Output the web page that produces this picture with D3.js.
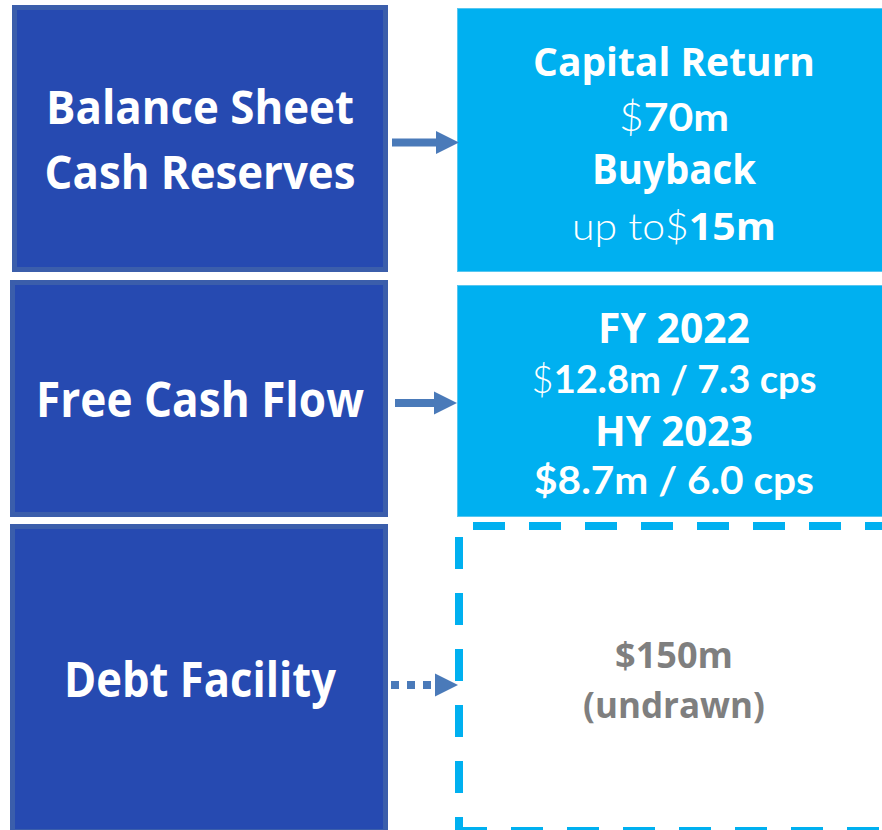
<!DOCTYPE html>
<html>
<head>
<meta charset="utf-8">
<script src="https://cdn.jsdelivr.net/npm/d3@7/dist/d3.min.js"></script>
<style>
  html, body { margin: 0; padding: 0; background: #fff; }
  svg { display: block; }
</style>
</head>
<body>
<svg id="chart" width="882" height="830"></svg>
<script>
'use strict';

// content of the three rows: source box -> target box
var sourceLabels = [
    ['Balance Sheet', 'Cash Reserves'],
    ['Free Cash Flow'],
    ['Debt Facility']
];

// each target line is a list of [text, style] runs
var targetLabels = [
    [
        [['Capital Return', 'bold']],
        [['$', 'thin'], ['70m', 'geo']],
        [['Buyback', 'bold']],
        [['up to', 'thin'], ['$', 'thin'], ['15m', 'bold']]
    ],
    [
        [['FY 2022', 'bold']],
        [['$', 'thin'], ['12.8m / 7.3 cps', 'geo']],
        [['HY 2023', 'bold']],
        [['$8.7m / 6.0 cps', 'geo']]
    ],
    [
        [['$150m', 'bold']],
        [['(undrawn)', 'bold']]
    ]
];

var linkTypes = ['solid', 'solid', 'dotted'];
var targetTypes = ['filled', 'filled', 'dashed'];

// layout (pixels)
var rowLayout = [
    { sx0: 12, sy0: 5,   sy1: 272, ty0: 8,   ty1: 272, ay: 142.5, ax0: 392, ax1: 459 },
    { sx0: 10, sy0: 280, sy1: 517, ty0: 285, ty1: 517, ay: 403,   ax0: 395, ax1: 457 },
    { sx0: 10, sy0: 524, sy1: 834, ty0: 526, ty1: 831, ay: 685,   ax0: 391, ax1: 458 }
];
var sourceText = [
    { size: [46, 46], base: [124, 188.5], width: [308, 311] },
    { size: [49],     base: [416.5],      width: [328] },
    { size: [49],     base: [696.5],      width: [272] }
];
var targetText = [
    { size: [40, 39, 42, 38], base: [76, 131, 184, 240], width: [282, 110, 164, 204] },
    { size: [42, 38, 42, 38], base: [343, 393, 446, 494], width: [152, 285, 158, 280] },
    { size: [36, 36],         base: [668, 718],           width: [118, 182] }
];

var sourceRight = 388, targetLeft = 457, targetRight = 892;
var sourceCx = 200, targetCx = 674;

var colors = {
    source: '#264ab1',
    sourceEdge: '#3b5eab',
    target: '#00b0f0',
    targetEdge: '#56c6f0',
    arrow: '#4a7ab9',
    grey: '#7f7f7f',
    white: '#ffffff'
};

var fonts = {
    bold: { family: '"Open Sans", Lato, sans-serif', weight: 700 },
    geo: { family: 'Lato, "Open Sans", sans-serif', weight: 700 },
    thin: { family: 'Lato, "Open Sans", sans-serif', weight: 300 }
};

var svg = d3.select('#chart');

function fitLine(textSel, cx, base, width) {
    var w = textSel.node().getComputedTextLength();
    var k = w > 0 ? width / w : 1;
    textSel.attr('transform', 'translate(' + cx + ',' + base + ') scale(' + k + ',1)');
}

function draw() {
    var rows = svg.selectAll('g.row')
        .data(sourceLabels.map(function (d, i) {
            return { source: d, target: targetLabels[i], link: linkTypes[i], type: targetTypes[i], lay: rowLayout[i], st: sourceText[i], tt: targetText[i] };
        }))
        .enter().append('g')
        .attr('class', 'row');

    // source boxes
    var sw = 5;
    rows.append('rect')
        .attr('x', function (d) { return d.lay.sx0 + sw / 2; })
        .attr('y', function (d) { return d.lay.sy0 + sw / 2; })
        .attr('width', function (d) { return sourceRight - d.lay.sx0 - sw; })
        .attr('height', function (d) { return d.lay.sy1 - d.lay.sy0 - sw; })
        .attr('fill', colors.source)
        .attr('stroke', colors.sourceEdge)
        .attr('stroke-width', sw);

    rows.each(function (d) {
        var g = d3.select(this);
        d.source.forEach(function (line, j) {
            var t = g.append('text')
                .attr('text-anchor', 'middle')
                .attr('font-family', fonts.bold.family)
                .attr('font-weight', fonts.bold.weight)
                .attr('font-size', d.st.size[j])
                .attr('fill', colors.white)
                .text(line);
            fitLine(t, sourceCx, d.st.base[j], d.st.width[j]);
        });
    });

    // target boxes
    rows.filter(function (d) { return d.type === 'filled'; })
        .append('rect')
        .attr('x', targetLeft + 0.5)
        .attr('y', function (d) { return d.lay.ty0 + 0.5; })
        .attr('width', targetRight - targetLeft)
        .attr('height', function (d) { return d.lay.ty1 - d.lay.ty0 - 1; })
        .attr('fill', colors.target)
        .attr('stroke', colors.targetEdge)
        .attr('stroke-width', 1);

    var dashed = rows.filter(function (d) { return d.type === 'dashed'; });
    var dx = 459;
    dashed.append('line')
        .attr('x1', dx).attr('x2', targetRight)
        .attr('y1', function (d) { return d.lay.ty0; })
        .attr('y2', function (d) { return d.lay.ty0; })
        .attr('stroke-dashoffset', 42);
    dashed.append('line')
        .attr('x1', dx).attr('x2', dx)
        .attr('y1', function (d) { return d.lay.ty0; })
        .attr('y2', function (d) { return d.lay.ty1; })
        .attr('stroke-dashoffset', 45);
    dashed.append('line')
        .attr('x1', dx - 4).attr('x2', targetRight)
        .attr('y1', function (d) { return d.lay.ty1; })
        .attr('y2', function (d) { return d.lay.ty1; })
        .attr('stroke-dashoffset', 0);
    dashed.selectAll('line')
        .attr('stroke', colors.target)
        .attr('stroke-width', 8)
        .attr('stroke-dasharray', '32 24');

    rows.each(function (d) {
        var g = d3.select(this);
        var fill = d.type === 'dashed' ? colors.grey : colors.white;
        d.target.forEach(function (line, j) {
            var t = g.append('text')
                .attr('text-anchor', 'middle')
                .attr('font-size', d.tt.size[j])
                .attr('fill', fill);
            t.selectAll('tspan')
                .data(line)
                .enter().append('tspan')
                .attr('font-family', function (r) { return fonts[r[1]].family; })
                .attr('font-weight', function (r) { return fonts[r[1]].weight; })
                .text(function (r) { return r[0]; });
            fitLine(t, targetCx, d.tt.base[j], d.tt.width[j]);
        });
    });

    // arrows
    var shaftW = 8, headLen = 23, headHalf = 11.5;
    rows.append('line')
        .attr('x1', function (d) { return d.lay.ax0; })
        .attr('x2', function (d) { return d.lay.ax1 - headLen + (d.link === 'dotted' ? -4 : 1); })
        .attr('y1', function (d) { return d.lay.ay; })
        .attr('y2', function (d) { return d.lay.ay; })
        .attr('stroke', colors.arrow)
        .attr('stroke-width', shaftW)
        .attr('stroke-dasharray', function (d) { return d.link === 'dotted' ? '8 8' : null; });

    rows.append('path')
        .attr('d', function (d) {
            var x1 = d.lay.ax1, x0 = x1 - headLen, y = d.lay.ay;
            return 'M' + x0 + ',' + (y - headHalf) + 'L' + x1 + ',' + y + 'L' + x0 + ',' + (y + headHalf) + 'Z';
        })
        .attr('fill', colors.arrow);
}

if (document.fonts && document.fonts.ready) {
    document.fonts.ready.then(draw);
} else {
    draw();
}
</script>
</body>
</html>
